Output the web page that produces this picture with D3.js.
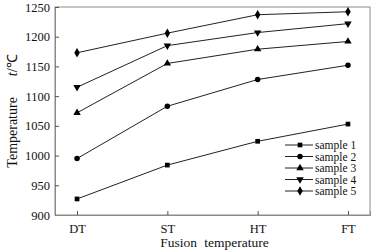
<!DOCTYPE html>
<html>
<head>
<meta charset="utf-8">
<script src="https://cdn.jsdelivr.net/npm/d3@7/dist/d3.min.js"></script>
<style>
  body { margin: 0; background: #fff; }
  text { font-family: "Liberation Serif", "Times New Roman", serif; fill: #111; }
</style>
</head>
<body>
<div class="chart"></div>
<script>
// data
var categories = ['DT', 'ST', 'HT', 'FT'];
var seriesNames = ['sample 1', 'sample 2', 'sample 3', 'sample 4', 'sample 5'];
var sample1 = [927, 984, 1024, 1053];
var sample2 = [995, 1083, 1128, 1152];
var sample3 = [1072, 1155, 1179, 1192];
var sample4 = [1115, 1185, 1207, 1222];
var sample5 = [1173, 1206, 1237, 1242];
var yTicks = [900, 950, 1000, 1050, 1100, 1150, 1200, 1250];

var series = [sample1, sample2, sample3, sample4, sample5];
var symbols = [d3.symbolSquare, d3.symbolCircle, d3.symbolTriangle, d3.symbolTriangle, d3.symbolDiamond];
var symSizes = [22, 24, 24, 24, 26];
var symRotate = [0, 0, 0, 180, 0];

var margin = { top: 7, right: 10, bottom: 36, left: 55 };
var width = 380 - margin.left - margin.right;
var height = 251 - margin.top - margin.bottom;

var svg = d3.select('.chart')
  .append('svg')
    .attr('width', width + margin.left + margin.right)
    .attr('height', height + margin.top + margin.bottom)
  .append('g')
    .attr('transform', `translate(${margin.left}, ${margin.top})`);

// scales
var xScale = d3.scalePoint()
  .domain(categories)
  .range([0, width])
  .padding(0.244);

var yScale = d3.scaleLinear()
  .domain([900, 1250])
  .range([height, 0]);

// frame
svg.append('rect')
  .attr('width', width)
  .attr('height', height)
  .style('fill', 'none')
  .style('stroke', '#8a8a8a')
  .style('stroke-width', 1);

// y axis, ticks pointing inward
var yAxis = d3.axisLeft(yScale)
  .tickValues(yTicks)
  .tickFormat(d3.format('d'))
  .tickSize(-4)
  .tickPadding(5);

var gy = svg.append('g').call(yAxis);
gy.select('.domain').attr('stroke', '#8a8a8a');
gy.selectAll('.tick line').attr('stroke', '#555');
gy.selectAll('.tick text')
  .style('font-size', '12.5px')
  .attr('font-family', null);

// x axis
var xAxis = d3.axisBottom(xScale)
  .tickSize(-4)
  .tickPadding(9);

var gx = svg.append('g')
  .attr('transform', `translate(0, ${height})`)
  .call(xAxis);
gx.select('.domain').attr('stroke', '#8a8a8a');
gx.selectAll('.tick line').attr('stroke', '#555');
gx.selectAll('.tick text')
  .style('font-size', '12.5px')
  .attr('font-family', null);

// axis titles
svg.append('text')
  .attr('x', width / 2 + 2)
  .attr('y', height + 32)
  .attr('text-anchor', 'middle')
  .style('font-size', '13.5px')
  .style('word-spacing', '4px')
  .text('Fusion temperature');

var yTitle = svg.append('text')
  .attr('transform', `translate(-38, ${height / 2}) rotate(-90)`)
  .attr('text-anchor', 'middle')
  .style('font-size', '14px');
yTitle.append('tspan').text('Temperature\u2003\u2002');
yTitle.append('tspan').style('font-style', 'italic').text('t');
yTitle.append('tspan').text('/\u2103');

// lines and markers
var line = d3.line()
  .x(function(d, i) { return xScale(categories[i]); })
  .y(function(d) { return yScale(d); });

series.forEach(function(values, s) {
  svg.append('path')
    .datum(values)
    .attr('d', line)
    .style('fill', 'none')
    .style('stroke', '#222')
    .style('stroke-width', 1);

  svg.selectAll('.pt' + s)
    .data(values)
    .enter()
    .append('path')
      .attr('class', 'pt' + s)
      .attr('d', d3.symbol().type(symbols[s]).size(symSizes[s]))
      .attr('transform', function(d, i) {
        return `translate(${xScale(categories[i])}, ${yScale(d)}) rotate(${symRotate[s]})`;
      })
      .style('fill', '#000');
});

// legend
var legend = svg.append('g')
  .attr('transform', `translate(${230}, ${138})`);

seriesNames.forEach(function(name, s) {
  var row = legend.append('g')
    .attr('transform', `translate(0, ${s * 11.5})`);
  row.append('line')
    .attr('x1', 0).attr('x2', 28)
    .style('stroke', '#222')
    .style('stroke-width', 1);
  row.append('path')
    .attr('d', d3.symbol().type(symbols[s]).size(symSizes[s]))
    .attr('transform', `translate(15, 0) rotate(${symRotate[s]})`)
    .style('fill', '#000');
  row.append('text')
    .attr('x', 30)
    .attr('dy', '0.35em')
    .style('font-size', '11.5px')
    .text(name);
});
</script>
</body>
</html>
